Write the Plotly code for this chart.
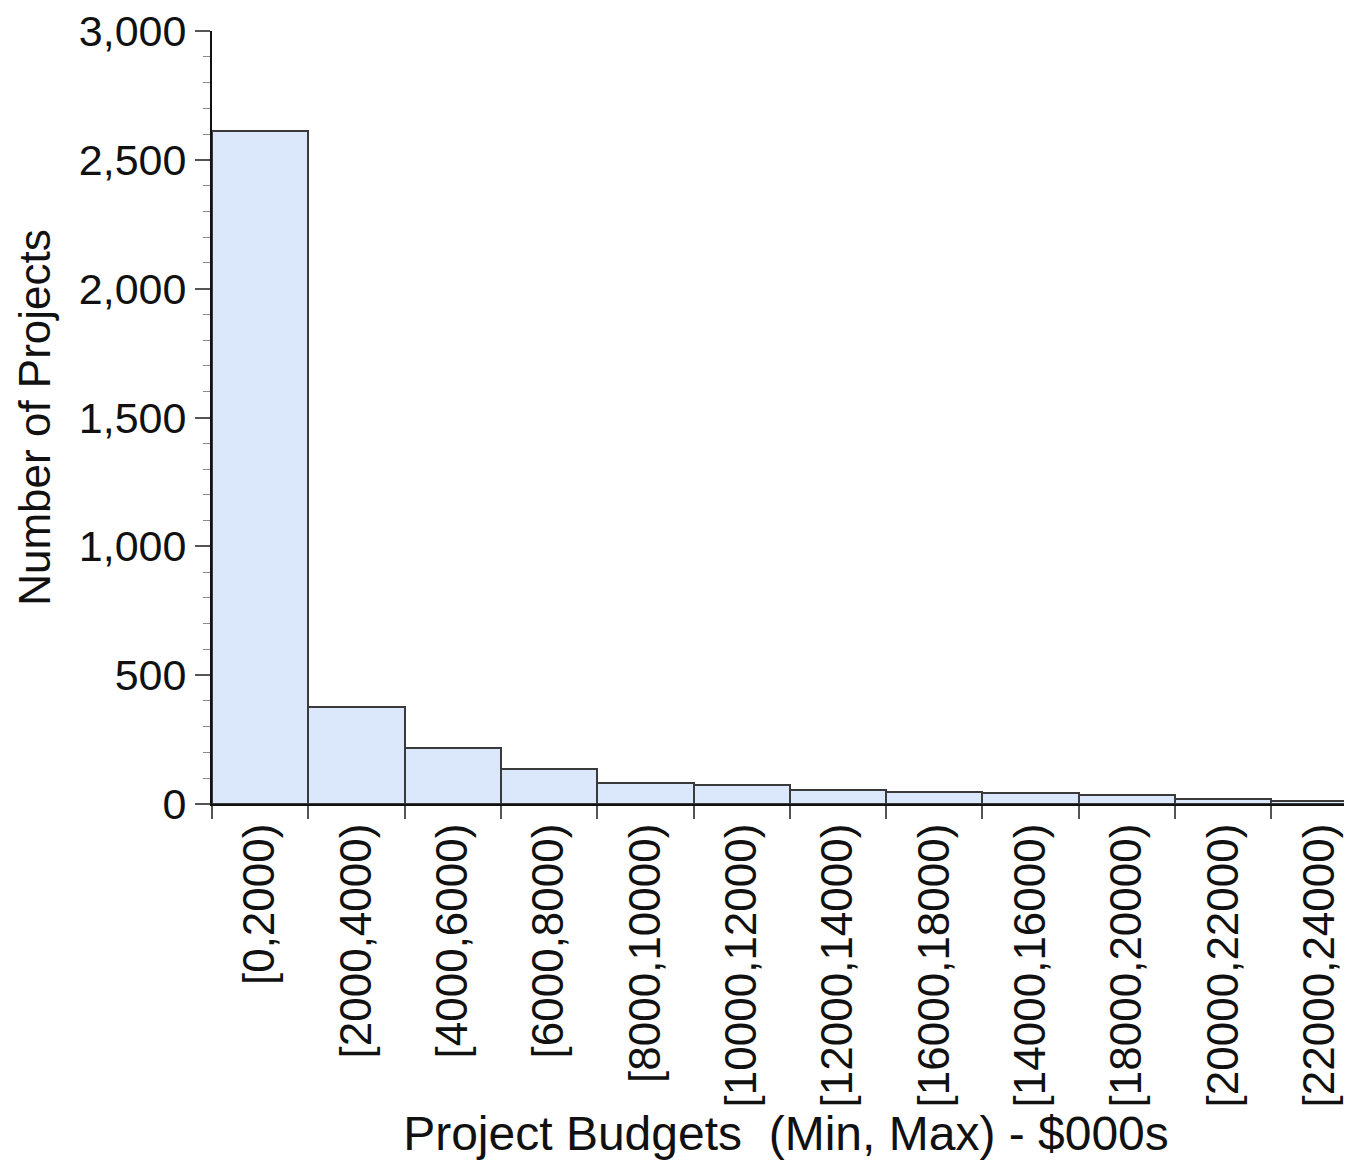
import plotly.graph_objects as go

categories = ["[0,2000)", "[2000,4000)", "[4000,6000)", "[6000,8000)", "[8000,10000)",
              "[10000,12000)", "[12000,14000)", "[16000,18000)", "[14000,16000)",
              "[18000,20000)", "[20000,22000)", "[22000,24000)"]
counts = [2612, 375, 217, 136, 81, 73, 53, 45, 44, 34, 20, 11]
y_ticks = [0, 500, 1000, 1500, 2000, 2500, 3000]
y_ticklabels = ["0", "500", "1,000", "1,500", "2,000", "2,500", "3,000"]

fig = go.Figure(go.Bar(
    x=categories, y=counts, width=1.0,
    marker=dict(color="#dbe8fb", line=dict(color="#3a3a3a", width=2)),
))

font = "Liberation Sans, Arial, sans-serif"
fig.update_layout(
    width=1352, height=1161,
    margin=dict(l=204, r=0, t=23, b=365),
    plot_bgcolor="white", paper_bgcolor="white",
    showlegend=False, bargap=0,
    font=dict(family=font, color="#111"),
)
fig.update_xaxes(
    range=[-0.5, 11.42], tickson="boundaries",
    ticks="outside", ticklen=13, tickcolor="#555", tickwidth=1.5,
    tickangle=-90, tickfont=dict(size=44, family=font, color="#111"),
    showline=True, linecolor="#111", linewidth=2,
    showgrid=False, zeroline=False, ticklabeloverflow="allow",
    title=dict(text="Project Budgets  (Min, Max) - $000s", font=dict(size=48, family=font, color="#111"), standoff=2),
)
fig.update_yaxes(
    range=[0, 3000], tickvals=y_ticks, ticktext=y_ticklabels,
    ticks="outside", ticklen=15, tickcolor="#555", tickwidth=1.5,
    minor=dict(dtick=100, ticks="outside", ticklen=7, tickcolor="#888", tickwidth=1),
    tickfont=dict(size=43, family=font, color="#111"),
    showline=True, linecolor="#111", linewidth=2,
    showgrid=False, zeroline=False, ticklabeloverflow="allow",
    title=dict(text="Number of Projects", font=dict(size=44, family=font, color="#111"), standoff=14),
)

fig.write_html("out.html")
